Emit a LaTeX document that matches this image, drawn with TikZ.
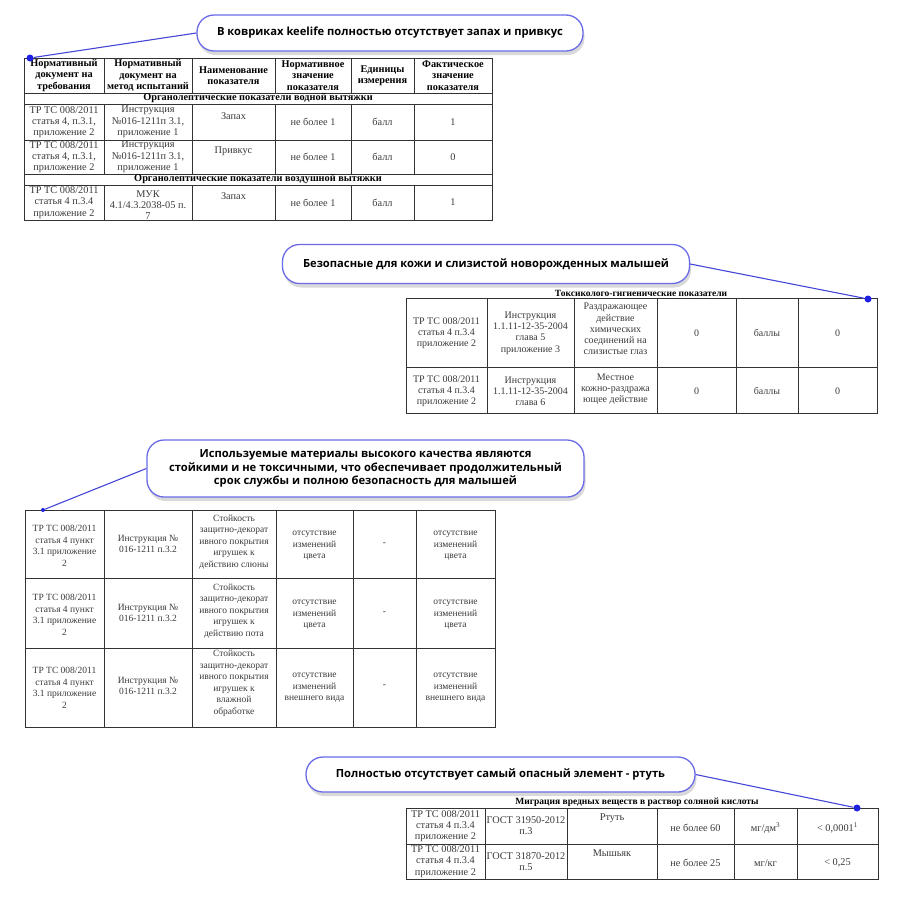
\documentclass[tikz,border=0pt]{standalone}
\usepackage{fontspec}
\setmainfont{Liberation Serif}
\newfontfamily\callfont{Open Sans}
\usetikzlibrary{shadows}
\definecolor{bubbleline}{HTML}{6B6BE8}
\definecolor{leadblue}{HTML}{4646D6}
\definecolor{beadblue}{HTML}{2020E2}
\definecolor{ink}{HTML}{3A3A3A}
\tikzset{
  bubble/.style={draw=bubbleline, line width=1.3pt, rounded corners=17pt, fill=white,
    font=\callfont\bfseries\fontsize{11.2}{13.5}\selectfont, align=center, inner sep=0pt,
    drop shadow={shadow xshift=1.5pt, shadow yshift=-4pt, fill=black, opacity=0.15}},
  bead/.style={circle, fill=beadblue, inner sep=0pt, minimum size=7pt},
  lead/.style={draw=leadblue, line width=1.1pt},
  tabline/.style={draw=black!80, line width=0.8pt},
  hd/.style={font=\bfseries\fontsize{10.3}{11.3}\selectfont, align=center, inner sep=0pt},
  tt/.style={font=\bfseries\fontsize{9.5}{10}\selectfont, inner sep=0pt},
  ca/.style={font=\fontsize{10.3}{11.3}\selectfont, text=ink, align=center, inner sep=0pt},
  cb/.style={font=\fontsize{10}{11.2}\selectfont, text=ink, align=center, inner sep=0pt},
  cc/.style={font=\fontsize{9.5}{11.5}\selectfont, text=ink, align=center, inner sep=0pt},
  cd/.style={font=\fontsize{10.3}{11.2}\selectfont, text=ink, align=center, inner sep=0pt}
}
\begin{document}
\begin{tikzpicture}[x=1pt, y=-1pt]
    \useasboundingbox (0,0) rectangle (900,900);
    % callouts
    \node[bubble, minimum width=386pt, minimum height=36pt] (calla) at (390,33) {В ковриках keelife полностью отсутствует запах и привкус};
    \node[bubble, minimum width=407pt, minimum height=39pt] (callb) at (486,264) {Безопасные для кожи и слизистой новорожденных малышей};
    \node[bubble, minimum width=437pt, minimum height=57pt] (callc) at (365.5,468.5) {Используемые материалы высокого качества являются\\стойкими и не токсичными, что обеспечивает продолжительный\\срок службы и полною безопасность для малышей};
    \node[bubble, minimum width=389pt, minimum height=35pt] (calld) at (500.5,774.5) {Полностью отсутствует самый опасный элемент - ртуть};

    % table 1
    \draw[tabline] (24,58) rectangle (492,220);
    \foreach \y in {93,104,140,174,185} \draw[tabline] (24,\y) -- (492,\y);
    \foreach \x in {104,192,275,351,414} {
      \draw[tabline] (\x,58) -- (\x,93);
      \draw[tabline] (\x,104) -- (\x,174);
      \draw[tabline] (\x,185) -- (\x,220);
    }
    \node[hd] (h1) at (64,75.5) {Нормативный\\документ на\\требования};
    \node[hd] (h2) at (148,75.5) {Нормативный\\документ на\\метод испытаний};
    \node[hd] (h3) at (233.5,75.5) {Наименование\\показателя};
    \node[hd] (h4) at (313,75.5) {Нормативное\\значение\\показателя};
    \node[hd] (h5) at (382.5,75.5) {Единицы\\измерения};
    \node[hd] (h6) at (453,75.5) {Фактическое\\значение\\показателя};
    \node[hd] (s1) at (258,98.5) {Органолептические показатели водной вытяжки};
    \node[ca] (a11) at (64,122) {ТР ТС 008/2011\\статья 4, п.3.1,\\приложение 2};
    \node[ca] (a12) at (148,122) {Инструкция\\№016-1211п 3.1,\\приложение 1};
    \node[ca] (a13) at (233.5,116) {Запах};
    \node[ca] (a14) at (313,122) {не более 1};
    \node[ca] (a15) at (382.5,122) {балл};
    \node[ca] (a16) at (453,122) {1};
    \node[ca] (a21) at (64,157) {ТР ТС 008/2011\\статья 4, п.3.1,\\приложение 2};
    \node[ca] (a22) at (148,157) {Инструкция\\№016-1211п 3.1,\\приложение 1};
    \node[ca] (a23) at (233.5,151) {Привкус};
    \node[ca] (a24) at (313,157) {не более 1};
    \node[ca] (a25) at (382.5,157) {балл};
    \node[ca] (a26) at (453,157) {0};
    \node[hd] (s2) at (258,179.5) {Органолептические показатели воздушной вытяжки};
    \node[ca] (a31) at (64,202.5) {ТР ТС 008/2011\\статья 4 п.3.4\\приложение 2};
    \node[ca] (a32) at (148,205) {МУК\\4.1/4.3.2038-05 п.\\7};
    \node[ca] (a33) at (233.5,196) {Запах};
    \node[ca] (a34) at (313,202.5) {не более 1};
    \node[ca] (a35) at (382.5,202.5) {балл};
    \node[ca] (a36) at (453,202.5) {1};

    % table 2
    \node[tt] (tb) at (641,293) {Токсиколого-гигиенические показатели};
    \draw[tabline] (406,298) rectangle (877,413);
    \draw[tabline] (406,367) -- (877,367);
    \foreach \x in {487,574,657,736,798} \draw[tabline] (\x,298) -- (\x,413);
    \node[cb] (b11) at (446.5,333) {ТР ТС 008/2011\\статья 4 п.3.4\\приложение 2};
    \node[cb] (b12) at (530.5,333) {Инструкция\\1.1.11-12-35-2004\\глава 5\\приложение 3};
    \node[cb] (b13) at (615.5,329) {Раздражающее\\действие\\химических\\соединений на\\слизистые глаз};
    \node[cb] (b14) at (696.5,333) {0};
    \node[cb] (b15) at (767,333) {баллы};
    \node[cb] (b16) at (837.5,333) {0};
    \node[cb] (b21) at (446.5,391) {ТР ТС 008/2011\\статья 4 п.3.4\\приложение 2};
    \node[cb] (b22) at (530.5,391) {Инструкция\\1.1.11-12-35-2004\\глава 6};
    \node[cb] (b23) at (615.5,389) {Местное\\кожно-раздража\\ющее действие};
    \node[cb] (b24) at (696.5,391) {0};
    \node[cb] (b25) at (767,391) {баллы};
    \node[cb] (b26) at (837.5,391) {0};

    % table 3
    \draw[tabline] (25,510) rectangle (495,727);
    \foreach \y in {578,648} \draw[tabline] (25,\y) -- (495,\y);
    \foreach \x in {104,192,276,353,416} \draw[tabline] (\x,510) -- (\x,727);
    \node[cc] (c11) at (64.5,546) {ТР ТС 008/2011\\статья 4 пункт\\3.1 приложение\\2};
    \node[cc] (c12) at (148,544) {Инструкция №\\016-1211 п.3.2};
    \node[cc] (c13) at (234,542) {Стойкость\\защитно-декорат\\ивного покрытия\\игрушек к\\действию слюны};
    \node[cc] (c14) at (314.5,546) {отсутствие\\изменений\\цвета};
    \node[cc] (c15) at (384.5,544) {-};
    \node[cc] (c16) at (455.5,546) {отсутствие\\изменений\\цвета};
    \node[cc] (c21) at (64.5,615) {ТР ТС 008/2011\\статья 4 пункт\\3.1 приложение\\2};
    \node[cc] (c22) at (148,613) {Инструкция №\\016-1211 п.3.2};
    \node[cc] (c23) at (234,611) {Стойкость\\защитно-декорат\\ивного покрытия\\игрушек к\\действию пота};
    \node[cc] (c24) at (314.5,615) {отсутствие\\изменений\\цвета};
    \node[cc] (c25) at (384.5,613) {-};
    \node[cc] (c26) at (455.5,615) {отсутствие\\изменений\\цвета};
    \node[cc] (c31) at (64.5,688) {ТР ТС 008/2011\\статья 4 пункт\\3.1 приложение\\2};
    \node[cc] (c32) at (148,686) {Инструкция №\\016-1211 п.3.2};
    \node[cc] (c33) at (234,683.5) {Стойкость\\защитно-декорат\\ивного покрытия\\игрушек к\\влажной\\обработке};
    \node[cc] (c34) at (314.5,688) {отсутствие\\изменений\\внешнего вида};
    \node[cc] (c35) at (384.5,686) {-};
    \node[cc] (c36) at (455.5,688) {отсутствие\\изменений\\внешнего вида};

    % table 4
    \node[tt] (td) at (637,802) {Миграция вредных веществ в раствор соляной кислоты};
    \draw[tabline] (406,808) rectangle (878,879);
    \draw[tabline] (406,844) -- (878,844);
    \foreach \x in {485,567,657,734,797} \draw[tabline] (\x,808) -- (\x,879);
    \node[cd] (d11) at (445.5,826) {ТР ТС 008/2011\\статья 4 п.3.4\\приложение 2};
    \node[cd] (d12) at (526,826) {ГОСТ 31950-2012\\п.3};
    \node[cd] (d13) at (612,818) {Ртуть};
    \node[cd] (d14) at (695.5,828) {не более 60};
    \node[cd] (d15) at (765.5,828) {мг/дм\textsuperscript{3}};
    \node[cd] (d16) at (837.5,828) {< 0,0001\textsuperscript{1}};
    \node[cd] (d21) at (445.5,861.5) {ТР ТС 008/2011\\статья 4 п.3.4\\приложение 2};
    \node[cd] (d22) at (526,861.5) {ГОСТ 31870-2012\\п.5};
    \node[cd] (d23) at (612,853) {Мышьяк};
    \node[cd] (d24) at (695.5,863) {не более 25};
    \node[cd] (d25) at (765.5,863) {мг/кг};
    \node[cd] (d26) at (837.5,863) {< 0,25};

    % pins and leads
    \node[bead] (pina) at (30,58) {};
    \node[bead] (pinb) at (868,299) {};
    \node[bead, minimum size=4pt] (pinc) at (43,510) {};
    \node[bead] (pind) at (857,808) {};
    \draw[lead] (calla.west) -- (pina);
    \draw[lead] (callb.east) -- (pinb);
    \draw[lead] (callc.west) -- (pinc);
    \draw[lead] (calld.east) -- (pind);
\end{tikzpicture}
\end{document}
